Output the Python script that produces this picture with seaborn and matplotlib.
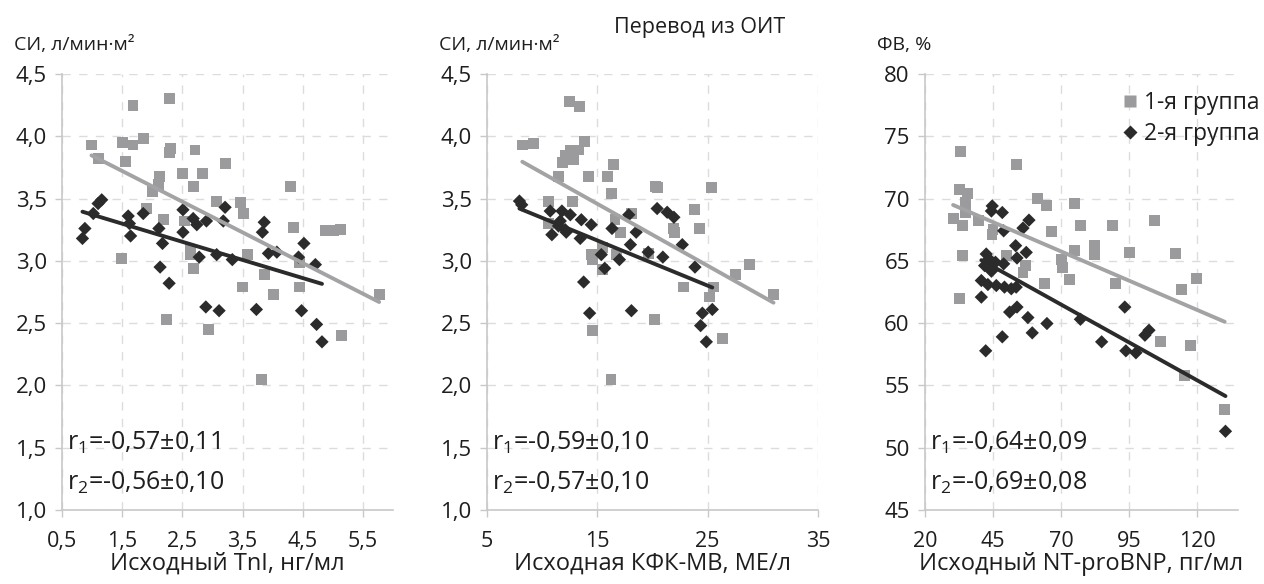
import numpy as np
import pandas as pd
import matplotlib
matplotlib.use("Agg")
import matplotlib.pyplot as plt
import seaborn as sns
from matplotlib.lines import Line2D

# ---------------- data ----------------
# Panel 1: baseline TnI (ng/ml) vs CI
tni_g1 = [0.99, 1.11, 1.51, 1.56, 1.68, 1.68, 1.86, 1.49, 1.91, 2.00, 2.10, 2.12, 2.18, 2.28,
          2.30, 2.28, 2.50, 2.53, 2.63, 2.63, 2.68, 2.68, 2.71, 2.84, 3.06, 3.21, 3.46, 3.52,
          3.59, 3.50, 3.87, 4.02, 4.30, 4.34, 4.45, 4.44, 4.87, 5.01, 5.13, 5.77, 2.24, 2.93,
          3.81, 5.15]
ci_tni_g1 = [3.93, 3.82, 3.95, 3.80, 4.25, 3.93, 3.98, 3.02, 3.42, 3.56, 3.61, 3.68, 3.33, 4.30,
             3.90, 3.87, 3.70, 3.32, 3.09, 3.05, 3.60, 2.94, 3.89, 3.70, 3.48, 3.78, 3.47, 3.38,
             3.05, 2.79, 2.89, 2.73, 3.60, 3.27, 2.99, 2.79, 3.24, 3.24, 3.25, 2.73, 2.53, 2.45,
             2.05, 2.40]
tni_g2 = [0.84, 0.88, 1.02, 1.10, 1.16, 1.60, 1.62, 1.64, 1.85, 2.11, 2.17, 2.13, 2.28, 2.51,
          2.51, 2.68, 2.74, 2.90, 2.78, 3.07, 3.21, 3.18, 3.33, 3.86, 3.83, 3.93, 4.07, 4.43,
          4.52, 4.71, 2.89, 3.11, 3.73, 4.48, 4.73, 4.82]
ci_tni_g2 = [3.18, 3.26, 3.38, 3.46, 3.49, 3.36, 3.30, 3.20, 3.38, 3.26, 3.14, 2.95, 2.82, 3.41,
             3.23, 3.34, 3.29, 3.32, 3.03, 3.05, 3.43, 3.32, 3.01, 3.31, 3.23, 3.06, 3.07, 3.03,
             3.14, 2.97, 2.63, 2.60, 2.61, 2.60, 2.49, 2.35]

# Panel 2: baseline CK-MB (IU/l) vs CI
ckmb_g1 = [8.2, 9.2, 12.5, 13.4, 13.85, 12.6, 13.3, 12.85, 12.09, 11.85, 11.48, 14.21, 15.9,
           16.5, 16.3, 10.57, 12.77, 10.57, 14.45, 14.6, 15.43, 15.43, 16.6, 17.06, 16.76,
           18.1, 19.66, 20.24, 20.42, 21.94, 22.0, 22.8, 23.8, 24.3, 25.35, 25.15, 25.5,
           27.55, 28.76, 30.97, 20.21, 14.52, 16.24, 26.33]
ci_ckmb_g1 = [3.93, 3.94, 4.28, 4.24, 3.96, 3.89, 3.89, 3.81, 3.85, 3.79, 3.68, 3.68, 3.68,
              3.77, 3.54, 3.48, 3.48, 3.30, 3.05, 3.01, 3.11, 2.93, 3.33, 3.23, 3.05,
              3.38, 3.06, 3.60, 3.59, 3.26, 3.23, 2.79, 3.41, 3.26, 3.59, 2.71, 2.79,
              2.89, 2.97, 2.73, 2.53, 2.44, 2.05, 2.38]
ckmb_g2 = [7.94, 8.15, 10.73, 11.79, 12.55, 11.64, 11.48, 12.09, 10.88, 12.18, 13.55, 14.45,
           13.45, 13.76, 14.30, 16.33, 15.36, 15.67, 17.85, 18.52, 18.0, 17.0, 19.61, 20.94,
           20.42, 21.33, 21.94, 22.7, 23.85, 18.09, 24.52, 25.42, 24.36, 24.88]
ci_ckmb_g2 = [3.48, 3.45, 3.40, 3.40, 3.37, 3.32, 3.28, 3.25, 3.21, 3.23, 3.33, 3.29,
              3.18, 2.83, 2.58, 3.26, 3.05, 2.94, 3.37, 3.23, 3.13, 3.01, 3.07, 3.03,
              3.42, 3.39, 3.35, 3.13, 2.95, 2.60, 2.58, 2.61, 2.48, 2.35]

# Panel 3: baseline NT-proBNP (pg/ml) vs EF
bnp_g1 = [33.0, 32.75, 35.57, 34.84, 34.84, 30.33, 33.63, 39.71, 44.98, 44.62, 33.63, 32.75,
          53.5, 50.1, 61.2, 64.5, 66.6, 74.9, 77.1, 74.9, 82.4, 82.4, 88.8, 95.0, 104.4,
          112.1, 119.8, 114.2, 90.1, 73.0, 63.9, 70.0, 70.6, 57.0, 56.0, 106.5, 117.5,
          115.4, 130.1]
ef_g1 = [73.8, 70.74, 70.39, 69.67, 68.88, 68.43, 67.81, 68.27, 67.55, 67.10, 65.42, 61.96,
         72.74, 65.42, 70.02, 69.41, 67.36, 69.59, 67.81, 65.82, 66.22, 65.5, 67.81, 65.68,
         68.27, 65.56, 63.61, 62.68, 63.16, 63.48, 63.16, 65.08, 64.49, 64.62, 64.09, 58.5,
         58.18, 55.76, 53.1]
bnp_g2 = [44.7, 48.4, 44.4, 58.2, 56.0, 48.9, 53.3, 57.2, 53.8, 42.5, 43.5, 41.9, 45.9, 48.9,
          44.4, 40.7, 43.1, 46.2, 49.2, 51.7, 53.5, 40.7, 51.1, 53.8, 57.8, 59.4, 64.8, 48.4,
          42.3, 77.1, 84.9, 93.4, 93.8, 97.5, 100.8, 102.3, 130.4]
ef_g2 = [69.41, 68.88, 69.0, 68.27, 67.63, 67.41, 66.22, 65.68, 65.23, 65.55, 65.16, 64.62,
         64.89, 64.76, 64.17, 63.42, 63.10, 63.02, 62.89, 62.76, 62.89, 62.09, 60.89, 61.29,
         60.45, 59.22, 59.97, 58.9, 57.78, 60.31, 58.5, 61.29, 57.78, 57.62, 59.03, 59.43,
         51.32]

x_labels = ["Исходный TnI, нг/мл", "Исходная КФК-МВ, МЕ/л", "Исходный NT-proBNP, пг/мл"]
y_units = ["СИ, л/мин·м²", "СИ, л/мин·м²", "ФВ, %"]
x_ticks = [[0.5, 1.5, 2.5, 3.5, 4.5, 5.5], [5, 15, 25, 35], [20, 45, 70, 95, 120]]
y_ticks = [[1.0, 1.5, 2.0, 2.5, 3.0, 3.5, 4.0, 4.5], [1.0, 1.5, 2.0, 2.5, 3.0, 3.5, 4.0, 4.5],
           [45, 50, 55, 60, 65, 70, 75, 80]]
r1_text = ["-0,57±0,11", "-0,59±0,10", "-0,64±0,09"]
r2_text = ["-0,56±0,10", "-0,57±0,10", "-0,69±0,08"]
legend_labels = ["1-я группа", "2-я группа"]
title = "Перевод из ОИТ"

# ---------------- style ----------------
sns.set_theme(style="white")
plt.rcParams["font.family"] = ["Open Sans", "DejaVu Sans"]
plt.rcParams["mathtext.fontset"] = "custom"
plt.rcParams["mathtext.rm"] = "Open Sans"
plt.rcParams["mathtext.it"] = "Open Sans"

GRAY = "#9b9b9d"
GRAY_LINE = "#a3a3a5"
DARK = "#2b2b2b"
GRID = "#dcdcdc"
SPINE = "#c8c8c8"
TXT = "#1e1e1e"

fig = plt.figure(figsize=(12.64, 5.84), dpi=100)
W, H = 1264, 584
boxes = [(62, 393), (487, 818), (925, 1238)]
top_px, bot_px = 74, 510

panels = [
    (tni_g1, ci_tni_g1, tni_g2, ci_tni_g2, (0.5, 6.0), (1.0, 4.5), "{:.1f}"),
    (ckmb_g1, ci_ckmb_g1, ckmb_g2, ci_ckmb_g2, (5, 35), (1.0, 4.5), "{:.0f}"),
    (bnp_g1, ef_g1, bnp_g2, ef_g2, (20, 135), (45, 80), "{:.0f}"),
]

for i, (xg1, yg1, xg2, yg2, xlim, ylim, xfmt) in enumerate(panels):
    l, r = boxes[i]
    ax = fig.add_axes([l / W, (H - bot_px) / H, (r - l) / W, (bot_px - top_px) / H])
    d1 = pd.DataFrame({"x": xg1, "y": yg1})
    d2 = pd.DataFrame({"x": xg2, "y": yg2})
    sns.scatterplot(data=d1, x="x", y="y", ax=ax, marker="s", s=62, color=GRAY,
                    edgecolor="none", linewidth=0, zorder=3)
    sns.scatterplot(data=d2, x="x", y="y", ax=ax, marker="D", s=46, color=DARK,
                    edgecolor="none", linewidth=0, zorder=4)
    sns.regplot(data=d1, x="x", y="y", ax=ax, scatter=False, ci=None, truncate=True,
                color=GRAY_LINE, line_kws=dict(lw=2.8, zorder=5))
    sns.regplot(data=d2, x="x", y="y", ax=ax, scatter=False, ci=None, truncate=True,
                color=DARK, line_kws=dict(lw=2.8, zorder=6))
    ax.set_xlim(*xlim)
    ax.set_ylim(*ylim)
    ax.set_xticks(x_ticks[i])
    ax.set_yticks(y_ticks[i])
    if i < 2:
        ax.set_yticklabels([f"{v:.1f}".replace(".", ",") for v in y_ticks[i]])
    else:
        ax.set_yticklabels([f"{v:.0f}" for v in y_ticks[i]])
    ax.set_xticklabels([xfmt.format(v).replace(".", ",") for v in x_ticks[i]])
    ax.grid(True, color=GRID, linestyle=(0, (6, 6)), linewidth=1.0)
    ax.set_axisbelow(True)
    for s in ["top", "right"]:
        ax.spines[s].set_visible(False)
    for s in ["left", "bottom"]:
        ax.spines[s].set_color(SPINE)
        ax.spines[s].set_linewidth(1.2)
    ax.tick_params(axis="y", length=5, width=1, color=SPINE, labelsize=16, pad=6,
                   labelcolor=TXT, left=True)
    ax.tick_params(axis="x", length=5, width=1, color=SPINE, labelsize=15.5, pad=10,
                   labelcolor=TXT, bottom=True)
    ax.set_xlabel(x_labels[i], fontsize=17, color=TXT, labelpad=0)
    ax.set_ylabel("")
    ax.text(0.015, 0.155, "r$_1$=" + r1_text[i], transform=ax.transAxes, fontsize=18,
            color=TXT, ha="left", va="center")
    ax.text(0.015, 0.063, "r$_2$=" + r2_text[i], transform=ax.transAxes, fontsize=18,
            color=TXT, ha="left", va="center")
    fig.text((l - 48) / W, (H - 45) / H, y_units[i], fontsize=14, color=TXT,
             ha="left", va="center")
    if i == 2:
        handles = [Line2D([], [], marker="s", linestyle="none", markersize=8,
                          markerfacecolor=GRAY, markeredgecolor="none"),
                   Line2D([], [], marker="D", linestyle="none", markersize=7,
                          markerfacecolor=DARK, markeredgecolor="none")]
        fig.legend(handles, legend_labels, loc="upper left",
                   bbox_to_anchor=(1112 / W, (H - 80) / H), frameon=False,
                   fontsize=16.5, handlelength=0.6, handletextpad=0.3, labelspacing=0.3,
                   borderpad=0, labelcolor=TXT)

fig.text(700 / W, (H - 27) / H, title, fontsize=15.5, color=TXT, ha="center", va="center")

fig.savefig("out.png", dpi=100)
